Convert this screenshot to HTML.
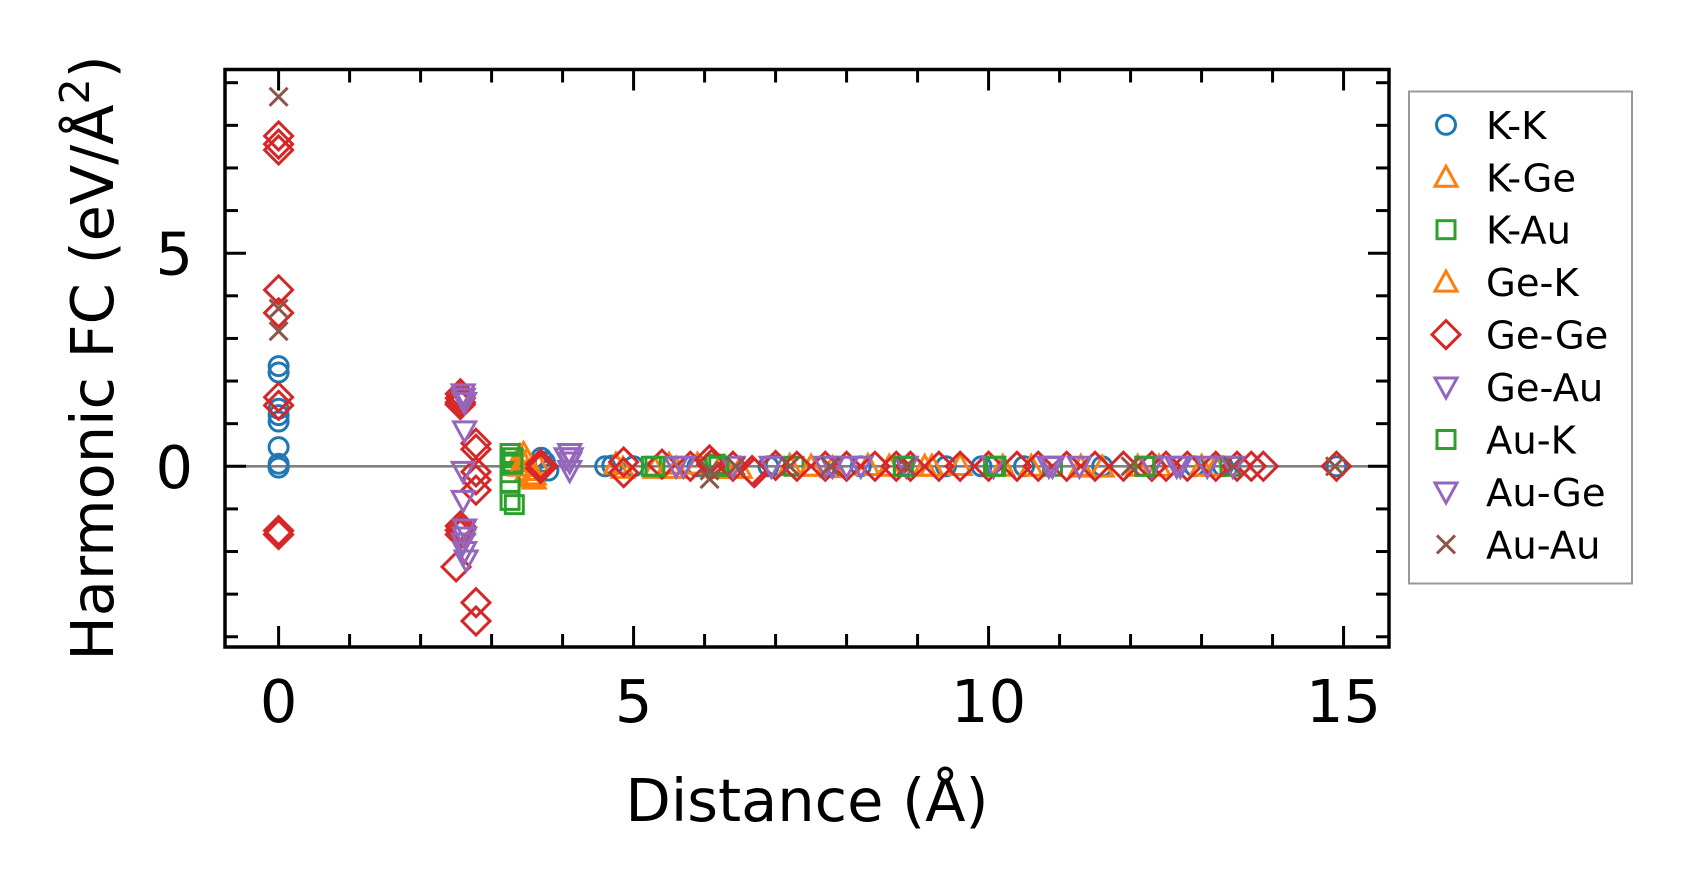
<!DOCTYPE html>
<html><head><meta charset="utf-8"><style>
html,body{margin:0;padding:0;background:#fff;}
svg{display:block;font-family:"DejaVu Sans","Liberation Sans",sans-serif;}
</style></head><body>
<svg id="chart" width="1692" height="893" viewBox="0 0 1692 893" xmlns="http://www.w3.org/2000/svg">
<rect width="1692" height="893" fill="#fff"/>
<g id="marks"></g>
<g id="axes"></g>
<text x="807" y="821" font-size="59" text-anchor="middle">Distance (Å)</text>
<text transform="translate(113,358) rotate(-90)" font-size="59" text-anchor="middle">Harmonic FC (eV/Å<tspan font-size="41" dy="-24">2</tspan><tspan dy="24">)</tspan></text>
<g id="legend"></g>
</svg>
<script>
const seriesNames = ["K-K","K-Ge","K-Au","Ge-K","Ge-Ge","Ge-Au","Au-K","Au-Ge","Au-Au"];
const xKK = [0,0,0,0,0,0,0,0,3.75,3.8,3.7,4.7,5.0,5.9,7.0,8.2,9.4,10.5,11.6,12.9,14.9,4.6,6.9,9.9,13.3];
const yKK = [2.35,2.2,1.35,1.2,1.05,0.45,0.06,-0.03,0.1,-0.1,0.2,0.02,0,0,0.02,0,0,0,0,0,0,0,0,0,0];
const xKGe = [3.4,3.45,3.5,3.55,3.45,3.6,4.75,5.3,5.9,6.5,7.2,7.8,8.6,9.6,10.6,11.6,12.4,13.2,5.6,6.2,7.5,9.1,11.3];
const yKGe = [0.25,0.1,-0.1,-0.25,0.3,-0.3,0.05,-0.05,0.05,-0.05,0.02,-0.03,0,0.02,0,-0.02,0,0,-0.05,-0.05,0,0,0];
const xKAu = [3.26,3.26,3.26,3.26,3.26,3.3,3.32,5.25,6.15,7.26,8.8,10.07,10.9,12.2,13.4];
const yKAu = [0.3,0.1,-0.15,-0.4,-0.8,0.2,-0.9,0,0.05,0,0,0,0,0,0];
const xGeK = [3.5,3.6,3.4,3.65,4.85,5.5,6.3,7.5,8.3,9.2,10.2,11.3,12.1,13.0];
const yGeK = [0.15,-0.2,0,0.05,-0.05,0.05,-0.05,0,0.02,0,0,-0.02,0,0];
const xGeGe = [0,0,0,0,0,0,0,0,0,2.56,2.56,2.56,2.56,2.56,2.56,2.56,2.5,2.78,2.78,2.78,2.78,2.78,2.78,2.78,3.69,3.69,3.72,4.86,4.86,6.07,6.67,5.4,5.8,6.4,7.0,7.3,7.7,8.0,8.4,8.7,8.9,9.3,9.6,10.0,10.4,10.7,11.1,11.5,11.9,12.3,12.5,12.8,13.2,13.5,13.7,13.87,14.9,6.1,6.7];
const yGeGe = [7.75,7.56,7.42,4.14,3.6,1.62,1.43,-1.51,-1.6,1.7,1.6,1.5,1.45,-1.4,-1.5,-1.6,-2.36,0.54,0.4,-0.13,-0.32,-0.56,-3.2,-3.63,0.05,-0.05,0,0.1,-0.15,0.15,-0.1,0.05,0,0,0.02,0,0,0,0,0,0,0,0,0,0,0,0,0,0,0,0,0,0,0,0,0,0,0.05,-0.15];
const xGeAu = [2.6,2.6,2.62,2.6,2.6,2.62,2.62,2.62,2.64,4.1,4.1,4.1,5.6,6.4,6.94,7.7,8.0,8.2,8.84,10.07,10.85,11.28,12.3,12.65,13.08,13.44,2.62,4.05];
const yGeAu = [1.7,1.6,0.83,-0.12,-0.8,-1.47,-1.66,-2.0,-2.2,0.3,0.1,-0.1,0,0,0,0,0,0,0,0,0,0,0,0,0,0,1.5,0.2];
const xAuK = [3.3,5.3,6.2,8.8,10.1,12.2];
const yAuK = [0.05,0,0,0,0,0];
const xAuGe = [2.6,4.12,5.7,7.8,10.9,12.7];
const yAuGe = [-1.8,0.2,0,0,0,0];
const xAuAu = [0,0,0,6.07,6.07,6.44,7.2,7.77,8.84,12.0,13.44,14.88];
const yAuAu = [8.67,3.7,3.17,-0.1,-0.3,0,0,0,0,0,0,0];
const xTicks = [0,5,10,15];
const yTicks = [0,5];

const NS="http://www.w3.org/2000/svg";
const L=225,R=1389,T=69.5,B=647;
const xmin=-0.755,xmax=15.64,ymin=-4.24,ymax=9.31;
const sx=v=>L+(v-xmin)/(xmax-xmin)*(R-L);
const sy=v=>B-(v-ymin)/(ymax-ymin)*(B-T);
const C={blue:"#1f77b4",orange:"#ff7f0e",green:"#2ca02c",red:"#d62728",purple:"#9467bd",brown:"#8c564b"};
function mk(tag,attrs,parent){const e=document.createElementNS(NS,tag);for(const k in attrs)e.setAttribute(k,attrs[k]);parent.appendChild(e);return e;}
function marker(type,x,y,color,parent){
  const sw=3;let e;
  if(type==="o") e=mk("circle",{cx:x,cy:y,r:9.5,fill:"none",stroke:color,"stroke-width":sw},parent);
  else if(type==="^") e=mk("polygon",{points:`${x},${y-11} ${x-11},${y+9} ${x+11},${y+9}`,fill:"none",stroke:color,"stroke-width":sw},parent);
  else if(type==="v") e=mk("polygon",{points:`${x},${y+11} ${x-11},${y-9} ${x+11},${y-9}`,fill:"none",stroke:color,"stroke-width":sw},parent);
  else if(type==="s") e=mk("rect",{x:x-9,y:y-9,width:18,height:18,fill:"none",stroke:color,"stroke-width":sw},parent);
  else if(type==="D") e=mk("polygon",{points:`${x},${y-14} ${x+14},${y} ${x},${y+14} ${x-14},${y}`,fill:"none",stroke:color,"stroke-width":sw},parent);
  else if(type==="x") e=mk("path",{d:`M${x-9},${y-9}L${x+9},${y+9}M${x-9},${y+9}L${x+9},${y-9}`,fill:"none",stroke:color,"stroke-width":sw},parent);
  return e;
}
const series=[
 [xKK,yKK,"o",C.blue],[xKGe,yKGe,"^",C.orange],[xKAu,yKAu,"s",C.green],[xGeK,yGeK,"^",C.orange],
 [xGeGe,yGeGe,"D",C.red],[xGeAu,yGeAu,"v",C.purple],[xAuK,yAuK,"s",C.green],[xAuGe,yAuGe,"v",C.purple],[xAuAu,yAuAu,"x",C.brown]];
const marks=document.getElementById("marks");
mk("line",{x1:L,x2:R,y1:sy(0),y2:sy(0),stroke:"#808080","stroke-width":2.6},marks);
series.forEach((s,i)=>{
  const g=mk("g",{},marks);
  
  
  s[0].forEach((xv,j)=>{
    const m=marker(s[2],sx(xv),sy(s[1][j]),s[3],g);
    
    
  });
});
const ax=document.getElementById("axes");
for(let v=0;v<=15;v++){
  const len=(v%5===0)?21:13,x=sx(v);
  const t1=mk("line",{x1:x,x2:x,y1:B,y2:B-len,stroke:"#000","stroke-width":3},ax);
  
  const t2=mk("line",{x1:x,x2:x,y1:T,y2:T+len,stroke:"#000","stroke-width":3},ax);
  
}
for(let v=-4;v<=9;v++){
  const len=(v%5===0)?21:13,y=sy(v);
  const t1=mk("line",{x1:L,x2:L+len,y1:y,y2:y,stroke:"#000","stroke-width":3},ax);
  
  const t2=mk("line",{x1:R,x2:R-len,y1:y,y2:y,stroke:"#000","stroke-width":3},ax);
  
}
const frame=mk("rect",{x:L,y:T,width:R-L,height:B-T,fill:"none",stroke:"#000","stroke-width":3.5},ax);

xTicks.forEach(v=>{const t=mk("text",{x:sx(v),y:722,"font-size":59,"text-anchor":"middle"},ax);t.textContent=v;
  });
yTicks.forEach(v=>{const t=mk("text",{x:193,y:sy(v)+21.5,"font-size":59,"text-anchor":"end"},ax);t.textContent=v;
  });
const lg=document.getElementById("legend");
const box=mk("rect",{x:1409,y:91.5,width:223,height:492,fill:"#fff",stroke:"#999","stroke-width":2},lg);

series.forEach((s,i)=>{
  const cy=124.8+i*52.45;
  const g=mk("g",{},lg);
  
  
  marker(s[2],1446,cy,s[3],g);
  const t=mk("text",{x:1486,y:cy+14,"font-size":38.5},g);
  t.textContent=seriesNames[i];
});
</script>
</body></html>
